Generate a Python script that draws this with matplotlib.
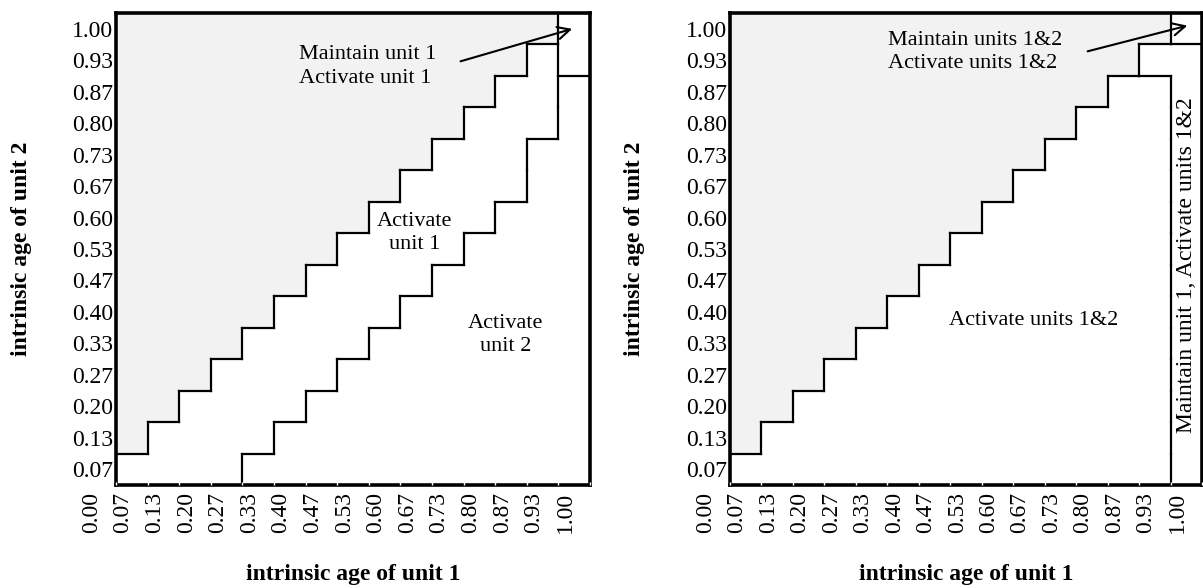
import numpy as np
import matplotlib.pyplot as plt
from matplotlib.collections import LineCollection
from matplotlib.colors import ListedColormap

plt.rcParams['font.family'] = ['Liberation Serif', 'DejaVu Serif']

n = 15  # age states per unit
x_labels = ['0.00', '0.07', '0.13', '0.20', '0.27', '0.33', '0.40', '0.47',
            '0.53', '0.60', '0.67', '0.73', '0.80', '0.87', '0.93', '1.00']
y_labels = x_labels[1:]

# policy regions: for each column (age of unit 1) the row where a region starts
# left panel: 2 = activate unit 2, 1 = activate unit 1, 0 = grey, 3 = maintain+activate unit 1
left_unit1_from = [0, 0, 0, 0, 1, 2, 3, 4, 5, 6, 7, 8, 9, 11, 13]
left_idle_from = [1, 2, 3, 4, 5, 6, 7, 8, 9, 10, 11, 12, 13, 14, 15]
left_box_from = [15] * 14 + [13]
# right panel: 4 = activate both, 5 = maintain unit 1, 0 = grey, 6 = maintain both
right_maint1_from = [15] * 13 + [13, 0]
right_idle_from = [1, 2, 3, 4, 5, 6, 7, 8, 9, 10, 11, 12, 13, 14, 15]
right_box_from = [15] * 14 + [14]


def policy_grid(base, layers):
    g = np.full((n, n), base)
    for code, start in layers:
        for c, s in enumerate(start):
            g[s:, c] = code
    return g


def boundaries(g):
    segs = []
    for r in range(n):
        for c in range(1, n):
            if g[r, c] != g[r, c - 1]:
                segs.append([(c, r), (c, r + 1)])
    for r in range(1, n):
        for c in range(n):
            if g[r, c] != g[r - 1, c]:
                segs.append([(c, r), (c + 1, r)])
    return segs


def draw_panel(ax, g, ylab_x):
    edges = np.arange(n + 1)
    ax.pcolormesh(edges, edges, (g == 0).astype(int), cmap=ListedColormap(['white', '#f2f2f2']),
                  vmin=0, vmax=1, shading='flat', antialiased=False)
    ax.add_collection(LineCollection(boundaries(g), colors='black', linewidths=1.6,
                                     capstyle='projecting'))
    ax.set_xlim(0, n)
    ax.set_ylim(0, n)
    for s in ax.spines.values():
        s.set_linewidth(2.6)
    ax.set_xticks(np.arange(n) + 0.22, x_labels[1:], rotation=90, fontsize=17)
    ax.set_yticks(np.arange(n) + 0.5, y_labels, fontsize=17)
    ax.tick_params(axis='x', which='major', length=0, pad=5)
    ax.tick_params(axis='y', which='major', length=0, pad=2)
    ax.set_xticks(edges, minor=True)
    ax.tick_params(axis='x', which='minor', direction='in', length=2.5, width=1, color='white')
    ax.xaxis.set_zorder(3)
    ax.annotate(x_labels[0], xy=(-0.78, 0), xycoords=('data', 'axes fraction'),
                xytext=(0, -5), textcoords='offset points', rotation=90,
                ha='center', va='top', fontsize=17, annotation_clip=False)
    ax.set_xlabel('intrinsic age of unit 1', fontsize=17, fontweight='bold')
    ax.set_ylabel('intrinsic age of unit 2', fontsize=17, fontweight='bold')
    ax.xaxis.set_label_coords(0.5, -0.168)
    ax.yaxis.set_label_coords(ylab_x, 0.5)


fig = plt.figure(figsize=(12.03, 5.88), dpi=100)
axL = fig.add_axes([116 / 1203, 1 - 485 / 588, 474 / 1203, 472 / 588])
axR = fig.add_axes([730 / 1203, 1 - 485 / 588, 472 / 1203, 472 / 588])

gL = policy_grid(2, [(1, left_unit1_from), (0, left_idle_from), (3, left_box_from)])
gR = policy_grid(4, [(5, right_maint1_from), (0, right_idle_from), (6, right_box_from)])

draw_panel(axL, gL, -0.177)
draw_panel(axR, gR, -0.18)

arrow = dict(arrowstyle='->', lw=1.5, color='black', mutation_scale=22)

axL.text(5.8, 13.3, 'Maintain unit 1\nActivate unit 1', ha='left', va='center',
         fontsize=16, linespacing=1.3)
axL.annotate('', xy=(14.52, 14.52), xytext=(10.82, 13.44), arrowprops=arrow)
axL.text(9.45, 8.02, 'Activate\nunit 1', ha='center', va='center', fontsize=16, linespacing=1.3)
axL.text(12.34, 4.77, 'Activate\nunit 2', ha='center', va='center', fontsize=16, linespacing=1.3)

axR.text(5.02, 13.76, 'Maintain units 1&2\nActivate units 1&2', ha='left', va='center',
         fontsize=16, linespacing=1.3)
axR.annotate('', xy=(14.62, 14.62), xytext=(11.28, 13.76), arrowprops=arrow)
axR.text(9.66, 5.24, 'Activate units 1&2', ha='center', va='center', fontsize=16)
axR.text(14.5, 7.0, 'Maintain unit 1, Activate units 1&2', ha='center', va='center',
         rotation=90, fontsize=17)

fig.savefig('out.png', dpi=100)
